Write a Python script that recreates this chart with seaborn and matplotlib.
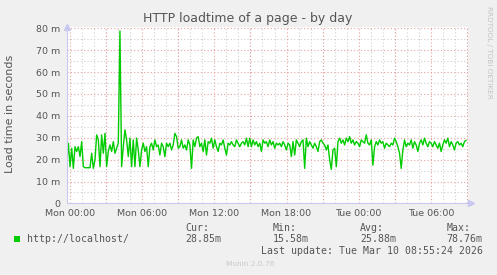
import numpy as np
import pandas as pd
import matplotlib
matplotlib.use("Agg")
import matplotlib.pyplot as plt
import matplotlib.dates as mdates
from matplotlib.ticker import FixedLocator
import seaborn as sns

# ---------------- data ----------------
title = "HTTP loadtime of a page - by day"
y_label = "Load time in seconds"
series_name = "http://localhost/"
start_time = "2026-03-08 23:43:34"
step_seconds = 498
load_ms = [
    17.5, 27.5, 16.8, 25.2, 16.0, 25.9, 23.7, 25.9, 21.4, 28.2,
    16.8, 16.3, 16.3, 16.3, 16.3, 22.9, 16.0, 19.9, 31.3, 29.0,
    16.8, 31.3, 22.9, 32.0, 16.8, 23.7, 26.7, 23.7, 28.2, 22.9,
    25.2, 27.5, 78.76, 16.8, 25.9, 33.6, 29.0, 21.4, 29.8, 16.8,
    29.0, 16.8, 29.8, 24.4, 16.8, 24.4, 27.5, 23.7, 25.9, 16.8,
    25.9, 27.5, 24.4, 29.0, 25.9, 26.7, 22.1, 27.5, 25.9, 21.4,
    27.5, 25.9, 27.5, 24.4, 26.7, 32.0, 30.5, 25.2, 25.9, 29.0,
    25.2, 26.7, 24.4, 29.0, 26.7, 16.0, 29.0, 25.9, 29.8, 30.5,
    25.9, 27.5, 23.7, 29.0, 22.1, 28.2, 27.5, 29.8, 25.2, 29.0,
    25.9, 23.7, 27.5, 26.7, 29.0, 25.2, 22.1, 27.5, 26.7, 28.2,
    26.7, 25.9, 29.0, 27.5, 25.9, 27.5, 28.2, 26.7, 29.8, 25.9,
    29.8, 25.9, 29.0, 26.7, 28.2, 25.9, 27.5, 23.7, 29.0, 27.5,
    28.2, 25.9, 29.0, 26.7, 28.2, 25.2, 27.5, 26.7, 27.5, 25.9,
    28.2, 26.7, 24.4, 27.5, 26.7, 21.4, 28.2, 22.1, 29.0, 27.5,
    25.9, 28.2, 29.0, 16.0, 29.8, 25.9, 28.2, 26.7, 25.2, 27.5,
    25.9, 23.7, 28.2, 29.0, 27.5, 26.7, 24.4, 26.7, 19.9, 15.58,
    24.4, 25.2, 16.8, 28.2, 29.8, 27.5, 29.0, 26.7, 29.8, 28.2,
    30.5, 27.5, 29.0, 26.7, 28.2, 27.5, 25.9, 29.0, 28.2, 27.5,
    31.3, 27.5, 26.7, 29.0, 17.5, 25.9, 28.2, 26.7, 29.0, 27.5,
    28.2, 25.2, 27.5, 26.7, 25.9, 27.5, 26.7, 29.8, 28.2, 25.9,
    22.9, 16.0, 24.4, 29.0, 25.9, 27.5, 26.7, 29.0, 25.2, 28.2,
    26.7, 23.7, 27.5, 29.0, 26.7, 29.8, 27.5, 25.9, 28.2, 27.5,
    25.9, 28.2, 26.7, 25.2, 27.5, 23.7, 26.7, 29.0, 27.5, 29.8,
    25.9, 28.2, 26.7, 24.4, 27.5, 28.2, 26.7, 27.5, 25.9, 28.2,
    28.85,
]
x_range = ["2026-03-08 23:43:34", "2026-03-10 09:05:00"]
y_range = [0, 80.7]
y_ticks = [0, 10, 20, 30, 40, 50, 60, 70, 80]
y_tick_labels = ["0", "10 m", "20 m", "30 m", "40 m", "50 m", "60 m", "70 m", "80 m"]
x_tick_times = ["2026-03-09 00:00", "2026-03-09 06:00", "2026-03-09 12:00",
                "2026-03-09 18:00", "2026-03-10 00:00", "2026-03-10 06:00"]
x_tick_labels = ["Mon 00:00", "Mon 06:00", "Mon 12:00", "Mon 18:00", "Tue 00:00", "Tue 06:00"]
stat_names = ["Cur:", "Min:", "Avg:", "Max:"]
stat_values = ["28.85m", "15.58m", "25.88m", "78.76m"]
last_update = "Last update: Tue Mar 10 08:55:24 2026"
footer = "Munin 2.0.76"
side_text = "RRDTOOL / TOBI OETIKER"

# ---------------- figure ----------------
W, H = 497, 275
BG = "#f0f0f0"
LINE = "#00cc00"
TXT = "#555555"
AXC = "#c8c8f0"
MAJ = "#e6a0a0"
MIN = "#cfcfcf"

sns.set_style("white")
plt.rcParams["font.family"] = ["DejaVu Sans"]

fig = plt.figure(figsize=(W / 100, H / 100), dpi=100, facecolor=BG)
L, R, T, B = 66.7, 468.0, 26.7, 203.4
ax = fig.add_axes([L / W, 1 - B / H, (R - L) / W, (B - T) / H])
ax.set_facecolor("white")

times = pd.date_range(start=start_time, periods=len(load_ms), freq=f"{step_seconds}s")
df = pd.DataFrame({"time": times, "load": load_ms})

ax.set_xlim(pd.Timestamp(x_range[0]), pd.Timestamp(x_range[1]))
ax.set_ylim(*y_range)

# grids
dots = (0, (1, 2))
ax.xaxis.set_minor_locator(mdates.HourLocator(interval=1))
ax.yaxis.set_minor_locator(FixedLocator([5, 15, 25, 35, 45, 55, 65, 75]))
ax.grid(which="minor", color=MIN, linestyle=dots, linewidth=0.8)
ax.set_axisbelow(True)
for h in pd.date_range("2026-03-09 00:00", "2026-03-10 09:00", freq="3h"):
    ax.axvline(h, color=MAJ, linestyle=dots, linewidth=0.8, zorder=0.6)
for yv in y_ticks[1:]:
    ax.axhline(yv, color=MAJ, linestyle=dots, linewidth=0.8, zorder=0.6)

sns.lineplot(data=df, x="time", y="load", ax=ax, color=LINE, linewidth=1.0, zorder=3)

ax.set_xticks([pd.Timestamp(t) for t in x_tick_times])
ax.set_xticklabels(x_tick_labels)
ax.set_yticks(y_ticks)
ax.set_yticklabels(y_tick_labels)
ax.tick_params(axis="both", which="major", labelsize=6.8, labelcolor=TXT, length=2,
               color=MAJ, width=0.7)
ax.tick_params(axis="x", which="major", pad=2.3)
ax.tick_params(axis="y", which="major", pad=2.8)
ax.tick_params(axis="both", which="minor", length=2, color=MIN, width=0.7)
ax.set_xlabel("")
ax.set_ylabel("")

for s in ["top", "right"]:
    ax.spines[s].set_visible(False)
for s in ["left", "bottom"]:
    ax.spines[s].set_color(AXC)
    ax.spines[s].set_linewidth(0.8)
    ax.spines[s].set_zorder(4)

# axis arrows
ax.plot([0], [1.0], marker="^", markersize=4, color=AXC, transform=ax.transAxes, clip_on=False, zorder=5)
ax.plot([1.008], [0], marker=">", markersize=4, color=AXC, transform=ax.transAxes, clip_on=False, zorder=5)

def fx(x):
    return x / W

def fy(y):
    return 1 - y / H

fig.text(fx(248), fy(18.3), title, ha="center", va="center", fontsize=9.0, color=TXT)
fig.text(fx(10.5), fy(114), y_label, ha="center", va="center", rotation=90, fontsize=8.0, color=TXT)
fig.text(fx(488.5), fy(52.5), side_text, ha="center", va="center", rotation=270, fontsize=5.2,
         color="#c4c4c4")

mono = "DejaVu Sans Mono"
fig.patches.append(plt.Rectangle((fx(14), fy(242.3)), 6 / W, 6 / H, transform=fig.transFigure,
                                 facecolor=LINE, edgecolor="none"))
fig.text(fx(26.5), fy(239.3), series_name, ha="left", va="center", fontsize=7.1,
         family=mono, color=TXT)
for xpos, nm, val in zip([185.3, 272.7, 360.0, 446.7], stat_names, stat_values):
    fig.text(fx(xpos), fy(227.7), nm, ha="left", va="center", fontsize=7.1, family=mono, color=TXT)
    fig.text(fx(xpos), fy(239.3), val, ha="left", va="center", fontsize=7.1, family=mono, color=TXT)
fig.text(fx(483), fy(251.3), last_update, ha="right", va="center", fontsize=7.1, family=mono, color=TXT)
fig.text(fx(250), fy(264.5), footer, ha="center", va="center", fontsize=5.3, color="#c8c8c8")

fig.savefig("out.png", dpi=100, facecolor=BG)
